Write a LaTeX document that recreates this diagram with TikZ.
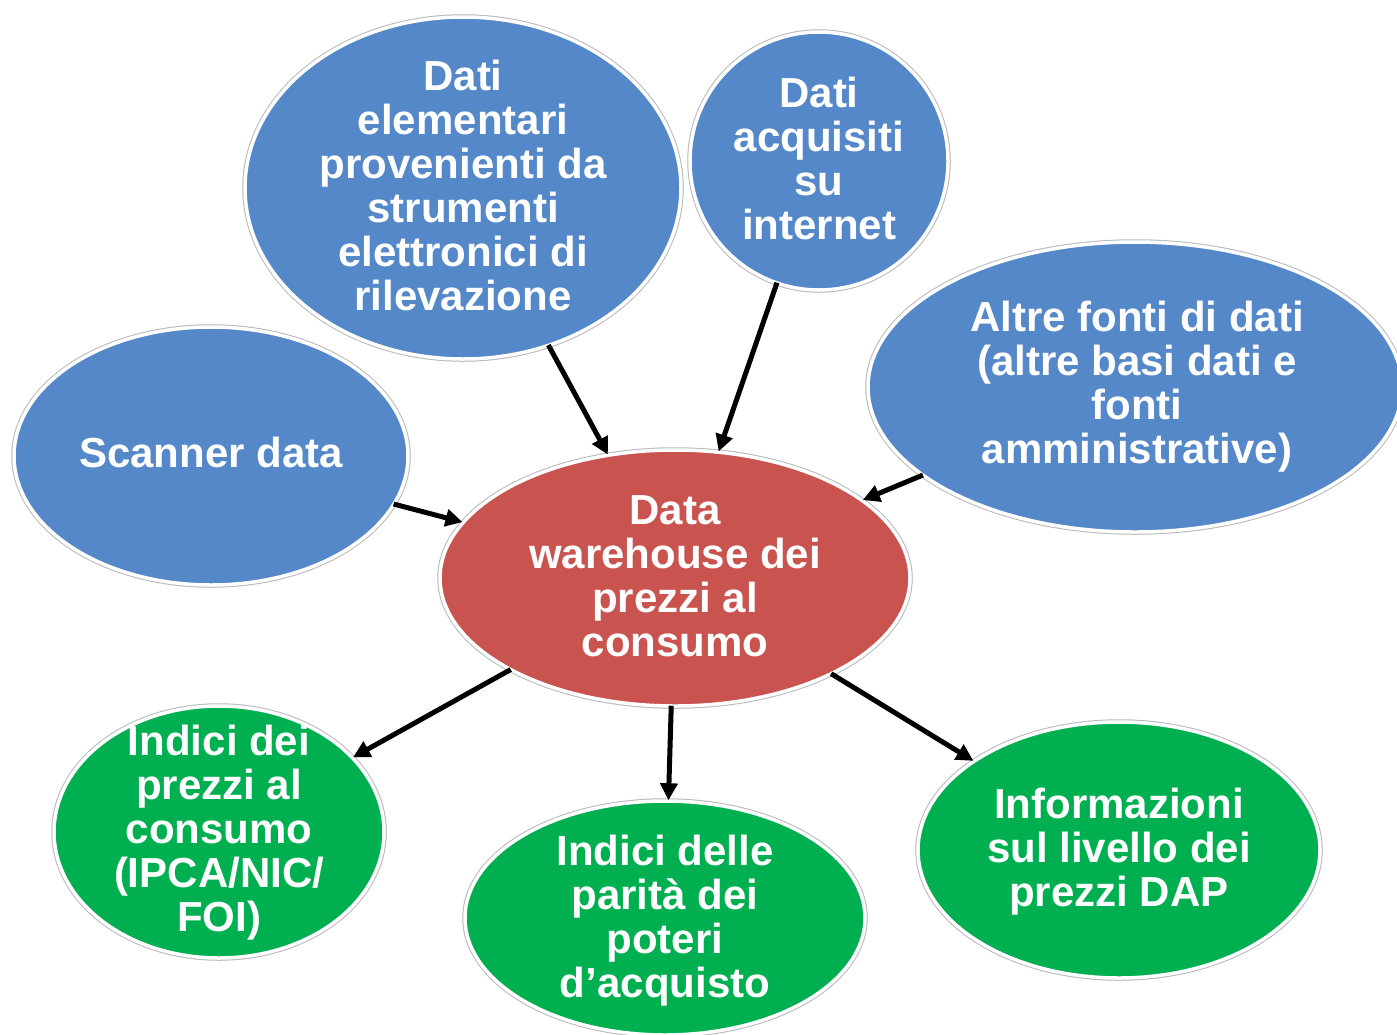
\documentclass[tikz,border=0pt]{standalone}
\usepackage{fontspec}
\setmainfont{Liberation Sans}
\usetikzlibrary{shapes.geometric,arrows.meta}
\definecolor{bblue}{HTML}{5588C8}
\definecolor{rred}{HTML}{C9544F}
\definecolor{ggreen}{HTML}{00B050}
\tikzset{
  blob/.style={ellipse, inner sep=0pt, draw=white, line width=3.5pt,
    preaction={draw=black!28, line width=5.5pt}},
  txt/.style={align=center, text=white, font=\bfseries\fontsize{42}{44}\selectfont, inner sep=0pt},
  arr/.style={line width=5pt, -{Triangle[length=17pt,width=17pt]}, shorten <=-2pt, shorten >=-1pt}
}
\begin{document}
\begin{tikzpicture}[x=1pt,y=-1pt]
\path[use as bounding box, clip] (0,0) rectangle (1397,1034);
\fill[white] (0,0) rectangle (1397,1034);
% source ellipses
\node[blob, fill=bblue, minimum width=436pt, minimum height=342pt] (e1) at (463,188) {};
\node[blob, fill=bblue, minimum width=258pt, minimum height=258pt] (e2) at (819,161) {};
\node[blob, fill=bblue, minimum width=534pt, minimum height=290pt] (e3) at (1135,387) {};
\node[blob, fill=bblue, minimum width=394pt, minimum height=258pt] (e4) at (211,456) {};
% centre
\node[blob, fill=rred, minimum width=470pt, minimum height=256pt] (dw) at (675,578) {};
% outputs
\node[blob, fill=ggreen, minimum width=330pt, minimum height=252pt] (o1) at (219,832) {};
\node[blob, fill=ggreen, minimum width=400pt, minimum height=234pt] (o2) at (665,918) {};
\node[blob, fill=ggreen, minimum width=402pt, minimum height=256pt] (o3) at (1119,850) {};
% texts
\node[txt] (t1) at ([yshift=3pt]e1.center) {Dati\\elementari\\provenienti da\\strumenti\\elettronici di\\rilevazione};
\node[txt] (t2) at ([yshift=3pt]e2.center) {Dati\\acquisiti\\su\\internet};
\node[txt] (t3) at ([xshift=2pt]e3.center) {Altre fonti di dati\\(altre basi dati e\\fonti\\amministrative)};
\node[txt] (t4) at ([yshift=4pt]e4.center) {Scanner data};
\node[txt] (tdw) at ([yshift=2pt]dw.center) {Data\\warehouse dei\\prezzi al\\consumo};
\node[txt] (to1) at ([yshift=-1pt]o1.center) {Indici dei\\prezzi al\\consumo\\(IPCA/NIC/\\FOI)};
\node[txt] (to2) at ([yshift=-3pt]o2.center) {Indici delle\\parità dei\\poteri\\d’acquisto};
\node[txt] (to3) at ([yshift=-2pt]o3.center) {Informazioni\\sul livello dei\\prezzi DAP};
% arrows
\draw[arr] (e1) -- (dw);
\draw[arr] (e2) -- (dw);
\draw[arr] (e3) -- (dw);
\draw[arr] (e4) -- (dw);
\draw[arr] (dw) -- (o1);
\draw[arr] (dw) -- (o2);
\draw[arr] (dw) -- (o3);
\end{tikzpicture}
\end{document}
